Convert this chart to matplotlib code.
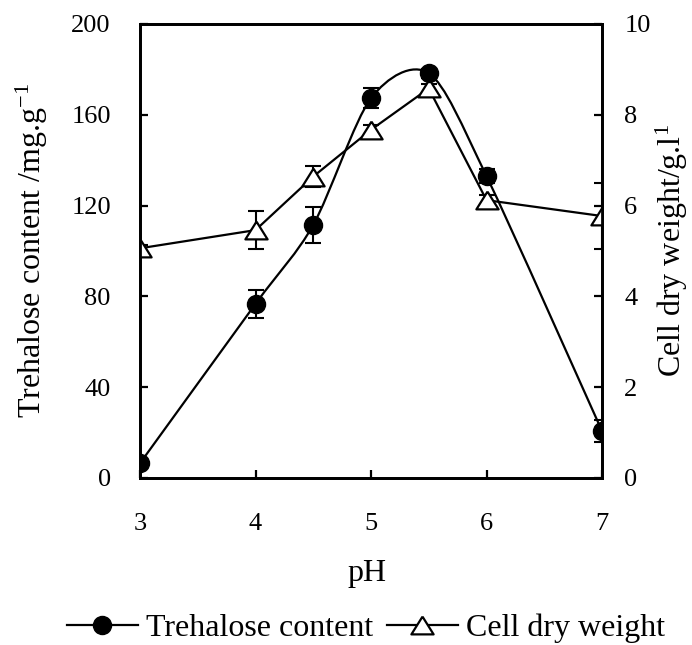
import matplotlib
matplotlib.use("Agg")
import matplotlib.pyplot as plt
from matplotlib.path import Path
from matplotlib.patches import PathPatch
from matplotlib.lines import Line2D
import numpy as np

plt.rcParams['font.family'] = ['Liberation Serif', 'DejaVu Serif']
plt.rcParams['mathtext.fontset'] = 'custom'
plt.rcParams['mathtext.rm'] = 'Liberation Serif'
plt.rcParams['mathtext.it'] = 'Liberation Serif:italic'

ph = [3, 4, 4.5, 5, 5.5, 6, 7]
trehalose = [6.5, 76.7, 111.5, 167.3, 178.3, 133.0, 20.7]
trehalose_err = [2, 6, 8, 4.5, 2, 3, 5]
cdw = [5.06, 5.46, 6.64, 7.67, 8.58, 6.12, 5.77]
cdw_err = [0.08, 0.42, 0.23, 0.1, 0.1, 0.12, 0.72]

xticks = [3, 4, 5, 6, 7]
yticks_left = [0, 40, 80, 120, 160, 200]
yticks_right = [0, 2, 4, 6, 8, 10]

W, H = 692, 645
fig = plt.figure(figsize=(W / 100, H / 100), dpi=100)
ax = fig.add_axes([140 / W, 1 - 478 / H, (602 - 140) / W, (478 - 24) / H])
ax2 = ax.twinx()
ax.set_zorder(ax2.get_zorder() + 1)
ax.patch.set_visible(False)

TICK_FS = 19
LAB_FS = 23

# smooth (Excel-like) curve for trehalose via Catmull-Rom -> cubic Bezier
pts = np.column_stack([ph, trehalose]).astype(float)
verts = [tuple(pts[0])]
codes = [Path.MOVETO]
n = len(pts)
for i in range(n - 1):
    p0 = pts[i - 1] if i > 0 else pts[i]
    p1 = pts[i]
    p2 = pts[i + 1]
    p3 = pts[i + 2] if i + 2 < n else pts[i + 1]
    c1 = p1 + (p2 - p0) / 7.0
    c2 = p2 - (p3 - p1) / 7.0
    verts += [tuple(c1), tuple(c2), tuple(p2)]
    codes += [Path.CURVE4] * 3
ax.add_patch(PathPatch(Path(verts, codes), facecolor='none', edgecolor='black', lw=1.6, zorder=2))

ax.errorbar(ph, trehalose, yerr=trehalose_err, fmt='none', ecolor='black',
            elinewidth=1.5, capsize=6, capthick=1.5, zorder=3)
ax.plot(ph, trehalose, linestyle='none', marker='o', markersize=13,
        markerfacecolor='black', markeredgecolor='black', zorder=4)

tri = [(0, 0.8), (-1, -0.8), (1, -0.8), (0, 0.8)]
ax2.errorbar(ph, cdw, yerr=cdw_err, fmt='none', ecolor='black',
             elinewidth=1.5, capsize=6, capthick=1.5, zorder=2)
ax2.plot(ph, cdw, color='black', lw=1.6, marker=tri, markersize=16,
         markerfacecolor='white', markeredgecolor='black', markeredgewidth=1.6, zorder=3)

ax.set_xlim(3, 7)
ax.set_ylim(0, 200)
ax2.set_ylim(0, 10)
ax.set_xticks(xticks)
ax.set_yticks(yticks_left)
ax2.set_yticks(yticks_right)

for a in (ax, ax2):
    for s in a.spines.values():
        s.set_linewidth(2.0)
ax.tick_params(axis='both', direction='in', length=6, width=1.6, labelsize=TICK_FS)
ax.tick_params(axis='y', pad=21)
ax.tick_params(axis='x', pad=25)
ax2.tick_params(axis='y', direction='in', length=6, width=1.6, labelsize=TICK_FS, pad=16)

ax.set_ylabel(r'Trehalose content /mg.g$^{-1}$', fontsize=LAB_FS, va='center')
ax.yaxis.set_label_coords(-(140 - 32) / 462, 0.5)
ax2.set_ylabel(r'Cell dry weight/g.l$^{1}$', fontsize=LAB_FS, rotation=90, va='center')
ax2.yaxis.set_label_coords(1 + (672 - 602) / 462, 0.5)

fig.text(367 / W, 1 - 573 / H, 'pH', fontsize=LAB_FS, ha='center', va='center')

h1 = Line2D([], [], color='black', lw=1.6, marker='o', markersize=13,
            markerfacecolor='black')
h2 = Line2D([], [], color='black', lw=1.6, marker=tri, markersize=16,
            markerfacecolor='white', markeredgewidth=1.6)
fig.legend([h1, h2], ['Trehalose content', 'Cell dry weight'], loc='center',
           bbox_to_anchor=(366 / W, 1 - 628 / H), ncol=2, frameon=False,
           fontsize=LAB_FS, handlelength=2.2, handletextpad=0.25,
           columnspacing=0.45, borderpad=0, borderaxespad=0)

fig.savefig('out.png', dpi=100)
